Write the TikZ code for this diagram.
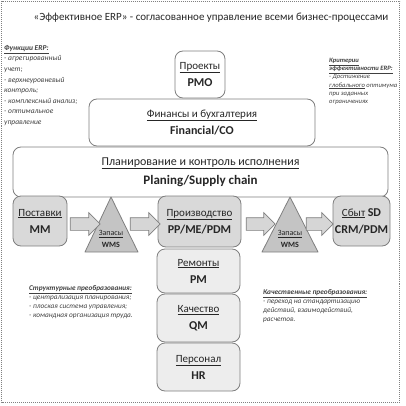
\documentclass[tikz,border=0pt]{standalone}
\usepackage{fontspec}
\setmainfont{Carlito}
\usetikzlibrary{shapes.arrows,calc}
\definecolor{boxc}{HTML}{7F7F7F}
\definecolor{fillA}{HTML}{D9D9D9}
\definecolor{fillB}{HTML}{EDEDED}
\definecolor{trifill}{HTML}{C4C4C4}
\definecolor{arrfill}{HTML}{D6D6D6}
\definecolor{txtc}{HTML}{262626}
\definecolor{notec}{HTML}{404040}
\newcommand\nmt[1]{\underline{#1}}
\newcommand\cdt[1]{{\fontsize{12}{17}\bfseries #1}}
\begin{document}
\begin{tikzpicture}[x=1pt,y=-1pt,
  every node/.style={text=txtc},
  basebox/.style={draw=boxc, line width=0.8pt, rounded corners=8pt, align=center, inner sep=0pt,
    font=\fontsize{11}{17}\selectfont},
  wbox/.style={basebox, fill=white},
  gbox/.style={basebox, fill=fillA},
  lbox/.style={basebox, fill=fillB},
  tri/.style={draw=boxc, line width=0.8pt, fill=trifill, line join=round},
  tritxt/.style={align=center, inner sep=0pt, font=\fontsize{8}{12}\selectfont},
  barrow/.style={single arrow, draw=boxc, line width=0.7pt, fill=arrfill, inner sep=0pt,
    minimum width=22pt, single arrow head extend=5pt, single arrow head indent=0pt,
    text width=0pt, text height=12pt},
  note/.style={align=left, inner sep=0pt, text=notec, font=\fontsize{7.5}{10.6}\selectfont\itshape},
  frame/.style={draw=gray, line width=0.6pt, dash pattern=on 1pt off 1pt}
]
\useasboundingbox (0,0) rectangle (406,406);
\draw[frame] (1.5,1.5) rectangle (399.5,402);

\node[inner sep=0pt, font=\fontsize{11}{13}\selectfont] (title) at (211,18)
  {«Эффективное ERP» - согласованное управление всеми бизнес-процессами};

\node[note, anchor=north west] (func) at (4,45)
  {\textbf{\underline{Функции ERP:}}\\- агрегированный\\учет;\\- верхнеуровневый\\контроль;\\- комплексный анализ;\\- оптимальное\\управление};

\node[note, anchor=north west, font=\fontsize{6.6}{8.2}\selectfont\itshape] (crit) at (329,58)
  {\textbf{\underline{Критерии}}\\\textbf{\underline{эффективности ERP:}}\\- Достижение\\\underline{глобального} оптимума\\при заданных\\ограничениях};

\node[wbox, minimum width=50pt, minimum height=47pt] (proj) at (200,74.5) {\nmt{Проекты}\\\cdt{PMO}};
\node[wbox, minimum width=226pt, minimum height=47pt] (fin) at (202,122.5) {\nmt{Финансы и бухгалтерия}\\\cdt{Financial/CO}};
\node[wbox, minimum width=375pt, minimum height=50pt, font=\fontsize{12}{19}\selectfont] (plan) at (200.5,172)
  {\nmt{Планирование и контроль исполнения}\\{\fontsize{13}{19}\bfseries Planing/Supply chain}};

\node[gbox, minimum width=54pt, minimum height=50pt] (post) at (40,221) {\nmt{Поставки}\\\cdt{MM}};
\node[gbox, minimum width=83pt, minimum height=51pt] (prod) at (199.5,221.5) {\nmt{Производство}\\\cdt{PP/ME/PDM}};
\node[gbox, minimum width=57pt, minimum height=50pt] (sbyt) at (361.5,221) {\nmt{Сбыт} \cdt{SD}\\\cdt{CRM/PDM}};

\node[lbox, minimum width=83pt, minimum height=44pt] (rem) at (198.5,271) {\nmt{Ремонты}\\\cdt{PM}};
\node[lbox, minimum width=83pt, minimum height=48pt] (kach) at (198.5,318) {\nmt{Качество}\\\cdt{QM}};
\node[lbox, minimum width=83pt, minimum height=48pt] (pers) at (198.5,367) {\nmt{Персонал}\\\cdt{HR}};

\coordinate (t1a) at (111,197); \coordinate (t1l) at (85,252); \coordinate (t1r) at (138,252);
\coordinate (t2a) at (290,197); \coordinate (t2l) at (262,252); \coordinate (t2r) at (318,252);
\draw[tri] (t1a) -- (t1r) -- (t1l) -- cycle;
\draw[tri] (t2a) -- (t2r) -- (t2l) -- cycle;
\node[tritxt] (wms1) at (111,239) {\nmt{Запасы}\\\textbf{WMS}};
\node[tritxt] (wms2) at (290,239) {\nmt{Запасы}\\\textbf{WMS}};

\node[barrow, minimum height=30pt] (a1) at (82,224) {};
\node[barrow, minimum height=30pt] (a2) at (142,224) {};
\node[barrow, minimum height=29pt] (a3) at (257.5,224) {};
\node[barrow, minimum height=27pt] (a4) at (316.5,224) {};

\node[note, anchor=north west, font=\fontsize{7.3}{9}\selectfont\itshape] (struct) at (29,285)
  {\textbf{\underline{Структурные преобразования:}}\\- централизация планирования;\\- плоская система управления;\\- командная организация труда.};
\node[note, anchor=north west, font=\fontsize{7.3}{9}\selectfont\itshape] (qual) at (263,289)
  {\textbf{\underline{Качественные преобразования:}}\\- переход на стандартизацию\\действий, взаимодействий,\\расчетов.};
\end{tikzpicture}
\end{document}
